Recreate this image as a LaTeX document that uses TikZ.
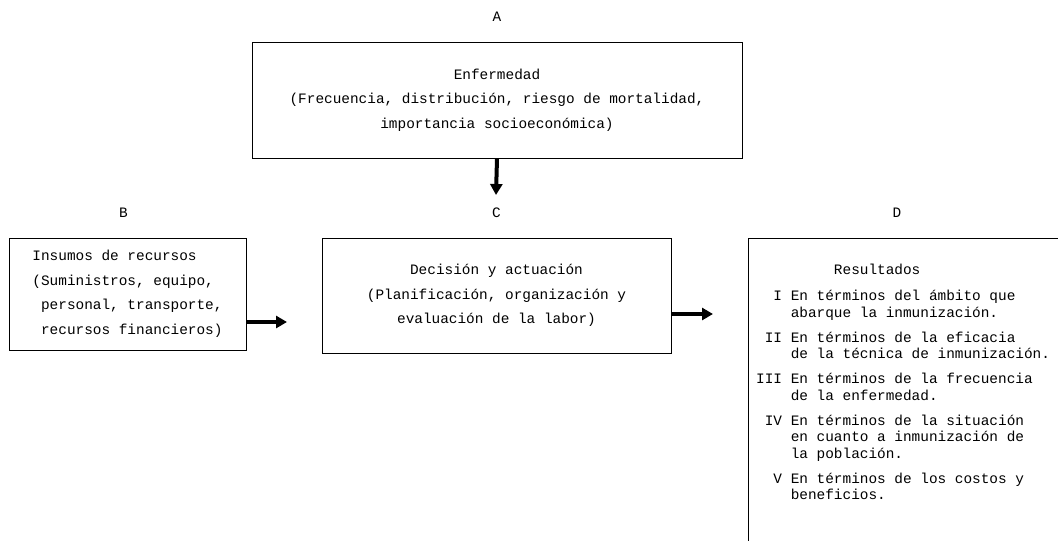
\documentclass[tikz,border=0pt]{standalone}
\usepackage{fontspec}
\setmainfont{Liberation Mono}
\usetikzlibrary{positioning}
\usetikzlibrary{arrows.meta}
\tikzset{
  box/.style={draw, line width=1pt, inner sep=0pt, align=center,
    font=\fontsize{14.4}{24.5}\selectfont},
  letter/.style={inner sep=0pt, font=\fontsize{14.4}{16}\selectfont},
  flow/.style={line width=4pt, -{Triangle[length=11pt, width=12pt]}},
}
\begin{document}
\begin{tikzpicture}[x=1pt, y=-1pt]
\useasboundingbox (0,0) rectangle (1058,541);
\node[box, minimum width=490pt, minimum height=116pt] at (497,100) (enfermedad)
  {Enfermedad\\(Frecuencia, distribución, riesgo de mortalidad,\\importancia socioeconómica)};
\node[box, align=left, minimum width=237pt, minimum height=112pt] at (127.5,294) (insumos)
  {Insumos de recursos\\(Suministros, equipo,\\\hspace*{0.6em}personal, transporte,\\\hspace*{0.6em}recursos financieros)};
\node[box, minimum width=349pt, minimum height=115pt] at (496.5,295.5) (decision)
  {Decisión y actuación\\(Planificación, organización y\\evaluación de la labor)};
\node[box, anchor=north west, minimum width=311pt, minimum height=306pt] at (748,238) (resultados) {};
% contenido de la caja D
\node[inner sep=0pt, font=\fontsize{14.4}{16.5}\selectfont, below right=25pt and 8pt of resultados.north west] (lista)
  {\begin{tabular}{@{}r@{ }l@{}}
   & \hspace*{3em}Resultados\\[9.5pt]
   I & En términos del ámbito que\\
     & abarque la inmunización.\\[8.5pt]
   II & En términos de la eficacia\\
      & de la técnica de inmunización.\\[8.5pt]
   III & En términos de la frecuencia\\
       & de la enfermedad.\\[8.5pt]
   IV & En términos de la situación\\
      & en cuanto a inmunización de\\
      & la población.\\[8.5pt]
   V & En términos de los costos y\\
     & beneficios.
   \end{tabular}};
% letras
\node[letter, above=20pt of enfermedad] (lab-a) {A};
\node[letter, above=20pt of insumos, xshift=-4pt] (lab-b) {B};
\node[letter, above=20pt of decision] (lab-c) {C};
\node[letter, above=20pt of resultados.north, xshift=-7pt] (lab-d) {D};
% flechas
\coordinate (enf-tip) at (496,195);
\coordinate (ins-tip) at (287,322);
\coordinate (dec-tip) at (713,314);
\draw[flow] (enfermedad.south) -- (enf-tip);
\draw[flow] (insumos.east |- ins-tip) -- (ins-tip);
\draw[flow] (decision.east |- dec-tip) -- (dec-tip);
\end{tikzpicture}
\end{document}
